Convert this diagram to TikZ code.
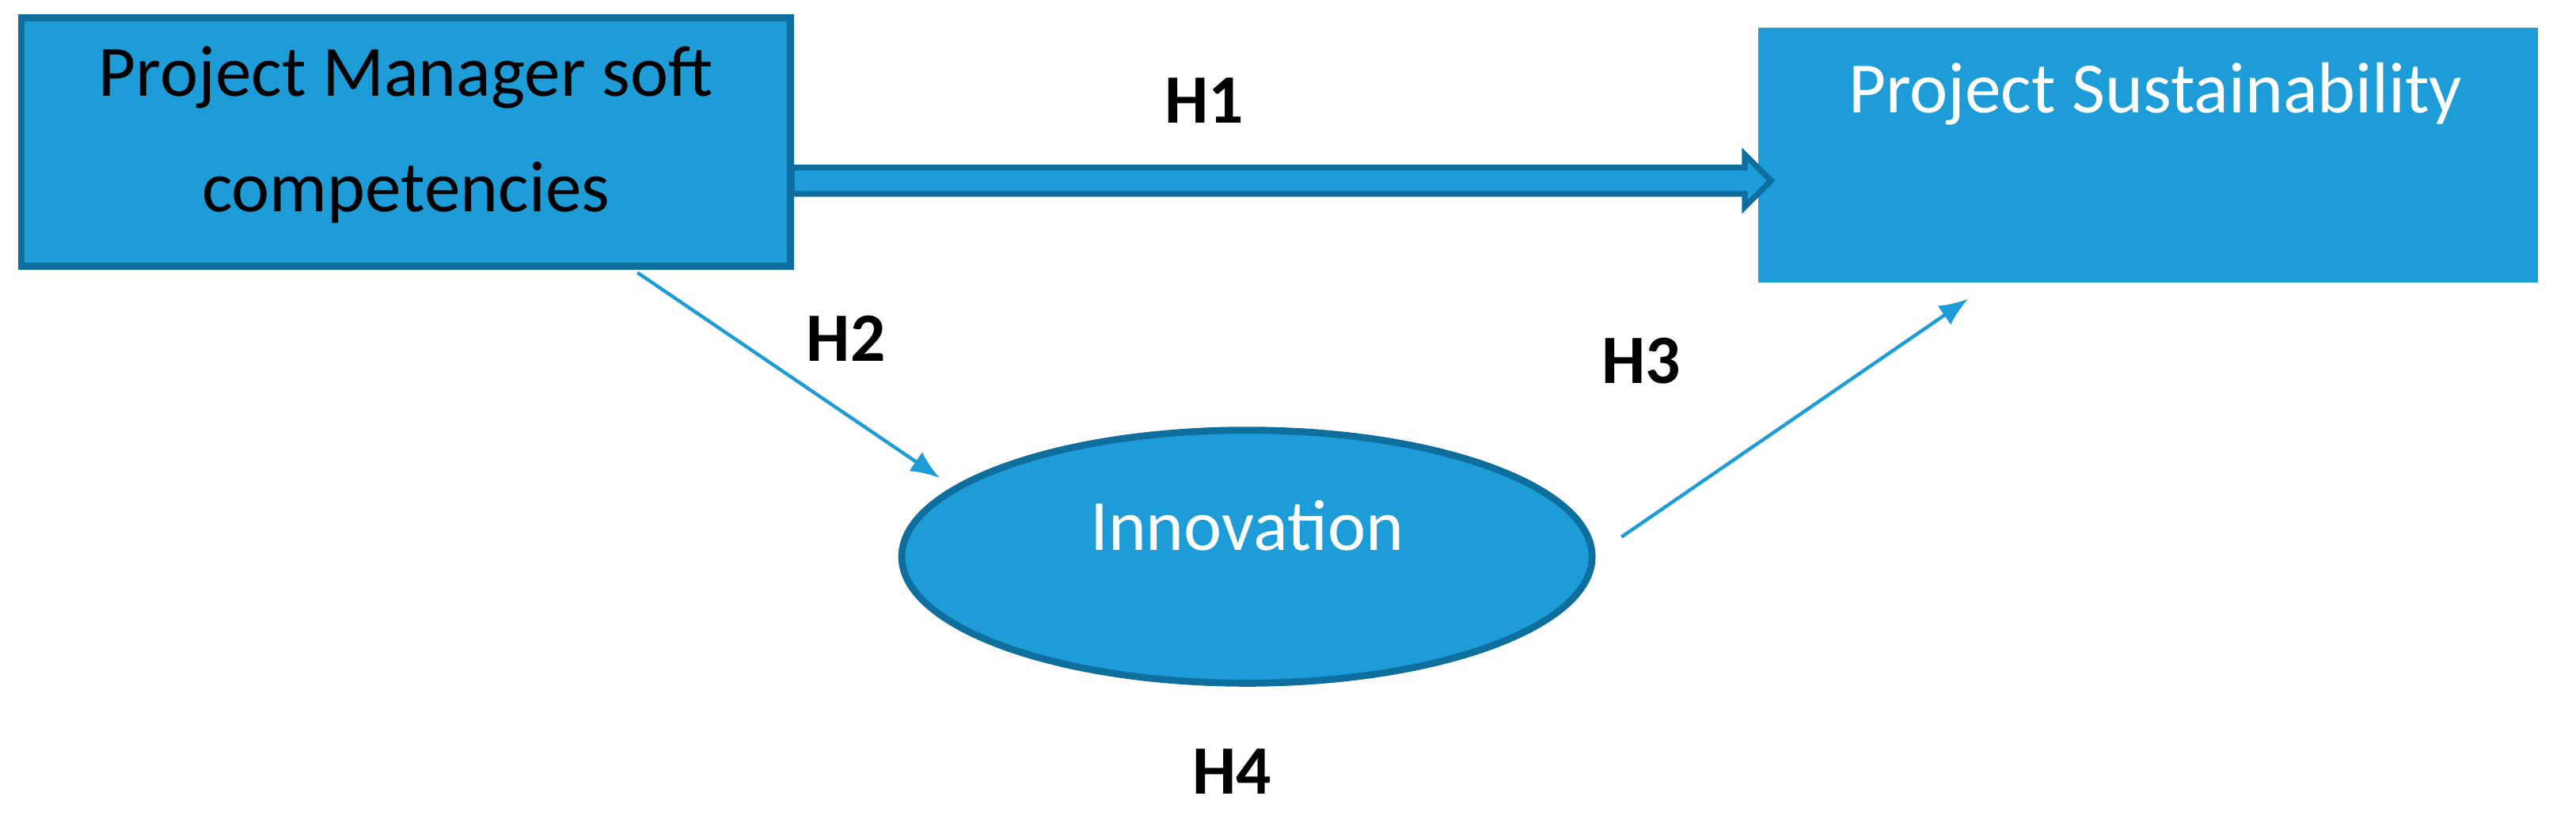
\documentclass[tikz,border=0pt]{standalone}
\usepackage{fontspec}
\setmainfont{Carlito}
\usetikzlibrary{shapes.geometric,arrows.meta}
\definecolor{fillb}{HTML}{1E9CD7}
\definecolor{darkb}{HTML}{0E6F9E}
\tikzset{
  box/.style={draw=none,fill=fillb,minimum width=#1,inner sep=0pt},
  hlab/.style={font=\bfseries\fontsize{12}{14}\selectfont},
  thin arrow/.style={draw=fillb,line width=0.6pt,-{Latex[length=5pt,width=4pt]}},
  txt/.style={font=\fontsize{12.5}{17}\selectfont}
}
\begin{document}
\begin{tikzpicture}[x=0.01cm,y=-0.01cm]
\useasboundingbox (0,0) rectangle (1568,496);
% left box
\fill[fillb,draw=darkb,line width=1.2pt] (13,11) rectangle (481,162);
\node[txt,align=center,text=black] (pm) at (247,82) {Project Manager soft\\[3pt]competencies};
\coordinate (pmE) at (482,110);
% right box
\fill[fillb] (1070,17) rectangle (1545,172);
\node[txt,text=white] (ps) at (1312,57) {Project Sustainability};
\coordinate (psW) at (1078,110);
% ellipse
\node[ellipse,fill=fillb,draw=darkb,line width=1.2pt,minimum width=4.2cm,minimum height=1.54cm] (inn) at (759,339) {};
\node[txt,text=white] (innt) at (759,320) {Innovation};
% H1 fat arrow
\filldraw[fill=fillb,draw=darkb,line width=1pt] (pmE)++(0,-8) -- (1062,102) -- (1062,94) -- (psW) -- (1062,126) -- (1062,118) -- (482,118) -- cycle;
% thin arrows
\coordinate (h2s) at (388,166);
\coordinate (h2e) at (572,291);
\draw[thin arrow] (h2s) -- (h2e);
\coordinate (h3s) at (987,327);
\coordinate (h3e) at (1198,182);
\draw[thin arrow] (h3s) -- (h3e);
% labels
\node[hlab] (H1) at (733,61) {H1};
\node[hlab] (H2) at (515,206) {H2};
\node[hlab] (H3) at (999,220) {H3};
\node[hlab] (H4) at (750,470) {H4};
\end{tikzpicture}
\end{document}
